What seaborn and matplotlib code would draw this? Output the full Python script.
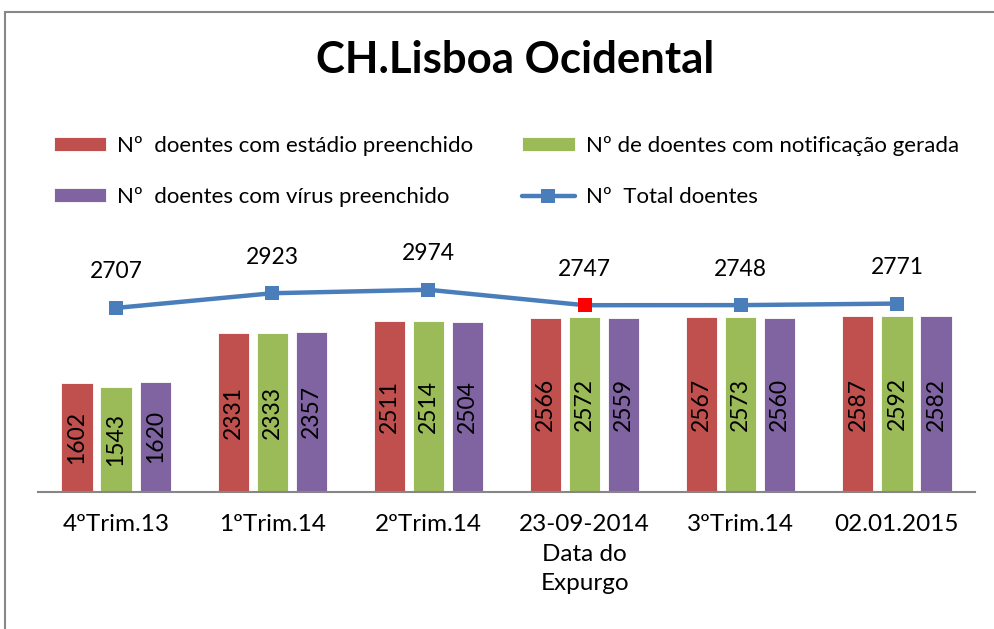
import numpy as np
import pandas as pd
import matplotlib.pyplot as plt
import seaborn as sns
from matplotlib.patches import Rectangle

# dados
periodos = ['4ºTrim.13', '1ºTrim.14', '2ºTrim.14', '23-09-2014\nData do\nExpurgo', '3ºTrim.14', '02.01.2015']
estadio = [1602, 2331, 2511, 2566, 2567, 2587]
notificacao = [1543, 2333, 2514, 2572, 2573, 2592]
virus = [1620, 2357, 2504, 2559, 2560, 2582]
total = [2707, 2923, 2974, 2747, 2748, 2771]
destaque = 3  # ponto vermelho (data do expurgo)

series = ['Nº  doentes com estádio preenchido',
          'Nº de doentes com notificação gerada',
          'Nº  doentes com vírus preenchido']
cores = ['#C0504D', '#9BBB59', '#8064A2']
nome_linha = 'Nº  Total doentes'

dados = pd.DataFrame({
    'periodo': periodos * 3,
    'serie': [series[0]] * 6 + [series[1]] * 6 + [series[2]] * 6,
    'valor': estadio + notificacao + virus,
})

sns.set_style('white')
plt.rcParams['font.family'] = ['Lato', 'DejaVu Sans']
plt.rcParams['text.color'] = 'black'
plt.rcParams['xtick.color'] = 'black'

fig = plt.figure(figsize=(9.94, 6.29), dpi=100)
ax = fig.add_axes([38 / 994, 1 - 492 / 629, 937 / 994, 272 / 629])

sns.barplot(data=dados, x='periodo', y='valor', hue='serie', order=periodos,
            hue_order=series, palette=cores, width=0.75, gap=0.2,
            saturation=1, edgecolor='white', linewidth=0.6, ax=ax)

for c in ax.containers:
    ax.bar_label(c, label_type='center', rotation=90, fontsize=16.5, color='black')

xs = np.arange(len(periodos))
sns.lineplot(x=xs, y=total, color='#4A7EBB', linewidth=3.2, marker='s',
             markersize=10, markeredgewidth=0, label=nome_linha, ax=ax)
ax.plot(xs[destaque], total[destaque], marker='s', color='#FF0000',
        markersize=10, markeredgewidth=0, linestyle='none')

for x, v in zip(xs, total):
    ax.annotate(str(v), (x, v), xytext=(0, 36), textcoords='offset pixels',
                ha='center', va='center', fontsize=16.5, color='black')

ax.set_xlim(-0.5, len(periodos) - 0.5)
ax.set_ylim(0, 4000)
ax.set_xlabel('')
ax.set_ylabel('')
ax.set_yticks([])
ax.tick_params(axis='x', length=0, pad=16, labelsize=17.5, labelcolor='black')
for t in ax.get_xticklabels():
    t.set_linespacing(1.5)
    t.set_verticalalignment('top')
for s in ['top', 'right', 'left']:
    ax.spines[s].set_visible(False)
ax.spines['bottom'].set_color('#868686')
ax.spines['bottom'].set_linewidth(1.5)

# legenda: barras na 1ª coluna/2ª coluna, como no original
h, l = ax.get_legend_handles_labels()
ordem = [series[0], series[2], series[1], nome_linha]
hl = dict(zip(l, h))
ax.legend_.remove()
fig.legend([hl[k] for k in ordem], ordem, ncol=2, loc='upper left',
           bbox_to_anchor=(54 / 994, 1 - 136 / 629), frameon=False,
           fontsize=16, handlelength=2.35, handleheight=0.6,
           handletextpad=0.5, columnspacing=2.2, labelspacing=1.4,
           borderpad=0, borderaxespad=0)

fig.text(515 / 994, 1 - 60 / 629, 'CH.Lisboa Ocidental', ha='center',
         va='center', fontsize=31.5, fontweight='bold')

fig.patches.append(Rectangle((5 / 994, -0.05), 1.2, 1 - 12 / 629 + 0.05,
                             transform=fig.transFigure, fill=False,
                             edgecolor='#888888', linewidth=1.5))

fig.savefig('out.png', dpi=100)
